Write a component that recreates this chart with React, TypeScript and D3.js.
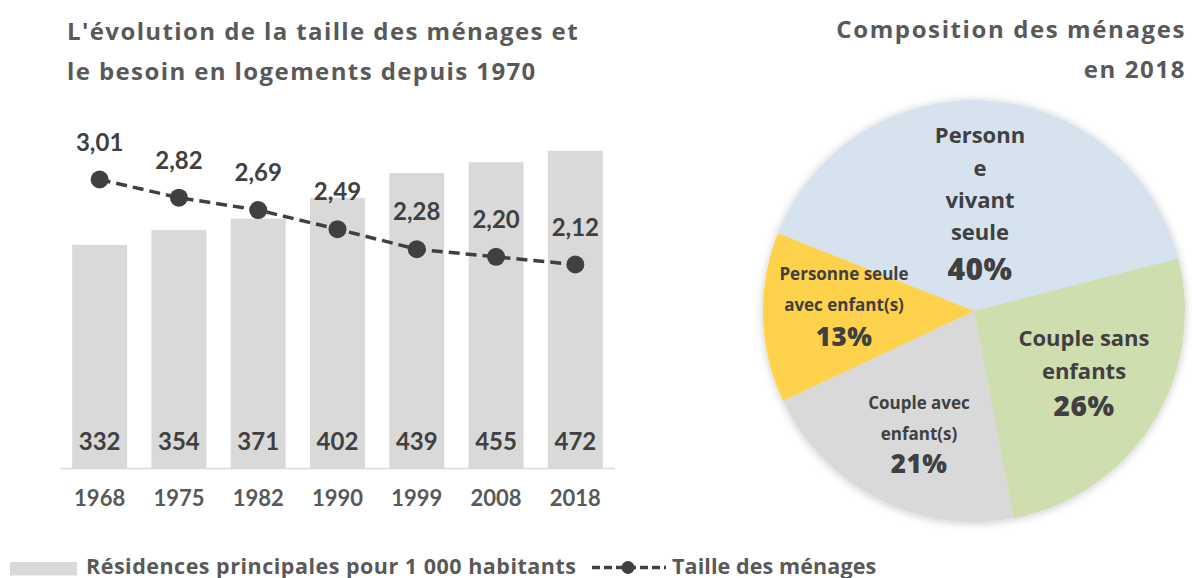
import React from "react";
import * as d3 from "d3";

const years = ["1968", "1975", "1982", "1990", "1999", "2008", "2018"];
const residences = [332, 354, 371, 402, 439, 455, 472];
const householdSize = [3.01, 2.82, 2.69, 2.49, 2.28, 2.2, 2.12];
const sizeLabels = ["3,01", "2,82", "2,69", "2,49", "2,28", "2,20", "2,12"];

const pieCategories = [
  ["Personn", "e", "vivant", "seule"],
  ["Couple sans", "enfants"],
  ["Couple avec", "enfant(s)"],
  ["Personne seule", "avec enfant(s)"],
];
const pieValues = [40, 26, 21, 13];
const pieColors = ["#d7e2ef", "#cfdeaf", "#d9d9d9", "#fed24b"];

const W = 1192;
const H = 578;
const NUM_FONT = "Lato, 'Open Sans', sans-serif";
const TITLE_FONT = "'Open Sans', Lato, sans-serif";

export default function App() {
  const x = d3.scaleBand<string>().domain(years).range([60, 615]).paddingInner(0.307).paddingOuter(0.1535);
  const yBar = d3.scaleLinear().domain([0, 500]).range([468, 132]);
  const yLine = d3.scaleLinear().domain([0, 3.5]).range([467, 132.7]);
  const cx = (i: number) => (x(years[i]) as number) + x.bandwidth() / 2;

  const line = d3
    .line<number>()
    .x((_, i) => cx(i))
    .y((d) => yLine(d));

  const pie = d3
    .pie<number>()
    .sort(null)
    .startAngle((-68.4 * Math.PI) / 180)
    .endAngle(((360 - 68.4) * Math.PI) / 180);
  const arcs = pie(pieValues);
  const R = 211;
  const arc = d3.arc<d3.PieArcDatum<number>>().innerRadius(0).outerRadius(R);

  const pieLabelPos = [
    { x: 980, ys: [143.3, 175.6, 208, 240.3], fs: 22, py: 280, ps: 30 },
    { x: 1084, ys: [346, 379], fs: 22, py: 416, ps: 28 },
    { x: 919, ys: [409, 439.5], fs: 17, py: 473, ps: 26 },
    { x: 844, ys: [280, 311], fs: 17, py: 346, ps: 26 },
  ];

  return (
    <svg width={W} height={H} style={{ position: "absolute", left: 0, top: 0, background: "#fff" }}>
      <defs>
        <filter id="pieShadow" x="-10%" y="-10%" width="120%" height="120%">
          <feDropShadow dx="0" dy="1" stdDeviation="4" floodColor="#000" floodOpacity="0.22" />
        </filter>
      </defs>

      {/* Left title */}
      <g fill="#595959" fontFamily={TITLE_FONT} fontWeight="bold" fontSize={24} letterSpacing={1.4}>
        <text x={67} y={39.5}>L'évolution de la taille des ménages et</text>
        <text x={67} y={79.5}>le besoin en logements depuis 1970</text>
      </g>

      {/* Right title */}
      <g fill="#595959" fontFamily={TITLE_FONT} fontWeight="bold" fontSize={24} letterSpacing={1.6} textAnchor="end">
        <text x={1186} y={38}>Composition des ménages</text>
        <text x={1186} y={78}>en 2018</text>
      </g>

      {/* Bars */}
      {residences.map((v, i) => (
        <rect key={years[i]} x={x(years[i])} y={yBar(v)} width={x.bandwidth()} height={yBar(0) - yBar(v)} fill="#d9d9d9" />
      ))}
      <line x1={60} x2={615} y1={468.5} y2={468.5} stroke="#d9d9d9" strokeWidth={1.5} />

      {/* Bar value labels */}
      <g fill="#404040" fontFamily={NUM_FONT} fontWeight="bold" fontSize={24} textAnchor="middle">
        {residences.map((v, i) => (
          <text key={years[i]} x={cx(i)} y={450}>
            {v}
          </text>
        ))}
      </g>

      {/* X axis labels */}
      <g fill="#595959" fontFamily={NUM_FONT} fontWeight="bold" fontSize={22} textAnchor="middle">
        {years.map((yr, i) => (
          <text key={yr} x={cx(i)} y={506}>
            {yr}
          </text>
        ))}
      </g>

      {/* Line */}
      <path d={line(householdSize) || ""} fill="none" stroke="#404040" strokeWidth={3.5} strokeDasharray="11 6" />
      {householdSize.map((v, i) => (
        <circle key={years[i]} cx={cx(i)} cy={yLine(v)} r={9} fill="#404040" />
      ))}
      <g fill="#404040" fontFamily={NUM_FONT} fontWeight="bold" fontSize={24} textAnchor="middle">
        {householdSize.map((v, i) => (
          <text key={years[i]} x={cx(i)} y={yLine(v) - 29}>
            {sizeLabels[i]}
          </text>
        ))}
      </g>

      {/* Pie */}
      <g transform={`translate(974,311)`} filter="url(#pieShadow)">
        {arcs.map((a, i) => (
          <path key={i} d={arc(a) || ""} fill={pieColors[i]} />
        ))}
      </g>
      <g fill="#404040" fontFamily={TITLE_FONT} fontWeight="bold" textAnchor="middle">
        {pieCategories.map((lines, i) => {
          const p = pieLabelPos[i];
          return (
            <g key={i}>
              {lines.map((t, j) => (
                <text key={j} x={p.x} y={p.ys[j]} fontSize={p.fs}>
                  {t}
                </text>
              ))}
              <text x={p.x} y={p.py} fontSize={p.ps} fontWeight={800} letterSpacing={0.5}>
                {pieValues[i]}%
              </text>
            </g>
          );
        })}
      </g>

      {/* Legend */}
      <rect x={10} y={562} width={67} height={13.5} fill="#d9d9d9" />
      <text x={86} y={573.5} fill="#595959" fontFamily={TITLE_FONT} fontWeight="bold" fontSize={21.5} letterSpacing={0.5}>
        Résidences principales pour 1 000 habitants
      </text>
      <line x1={592} x2={666} y1={567.5} y2={567.5} stroke="#404040" strokeWidth={3.5} strokeDasharray="8 4" />
      <circle cx={628} cy={567.5} r={6.5} fill="#404040" />
      <text x={672} y={573.5} fill="#595959" fontFamily={TITLE_FONT} fontWeight="bold" fontSize={21.5} letterSpacing={0.1}>
        Taille des ménages
      </text>
    </svg>
  );
}
